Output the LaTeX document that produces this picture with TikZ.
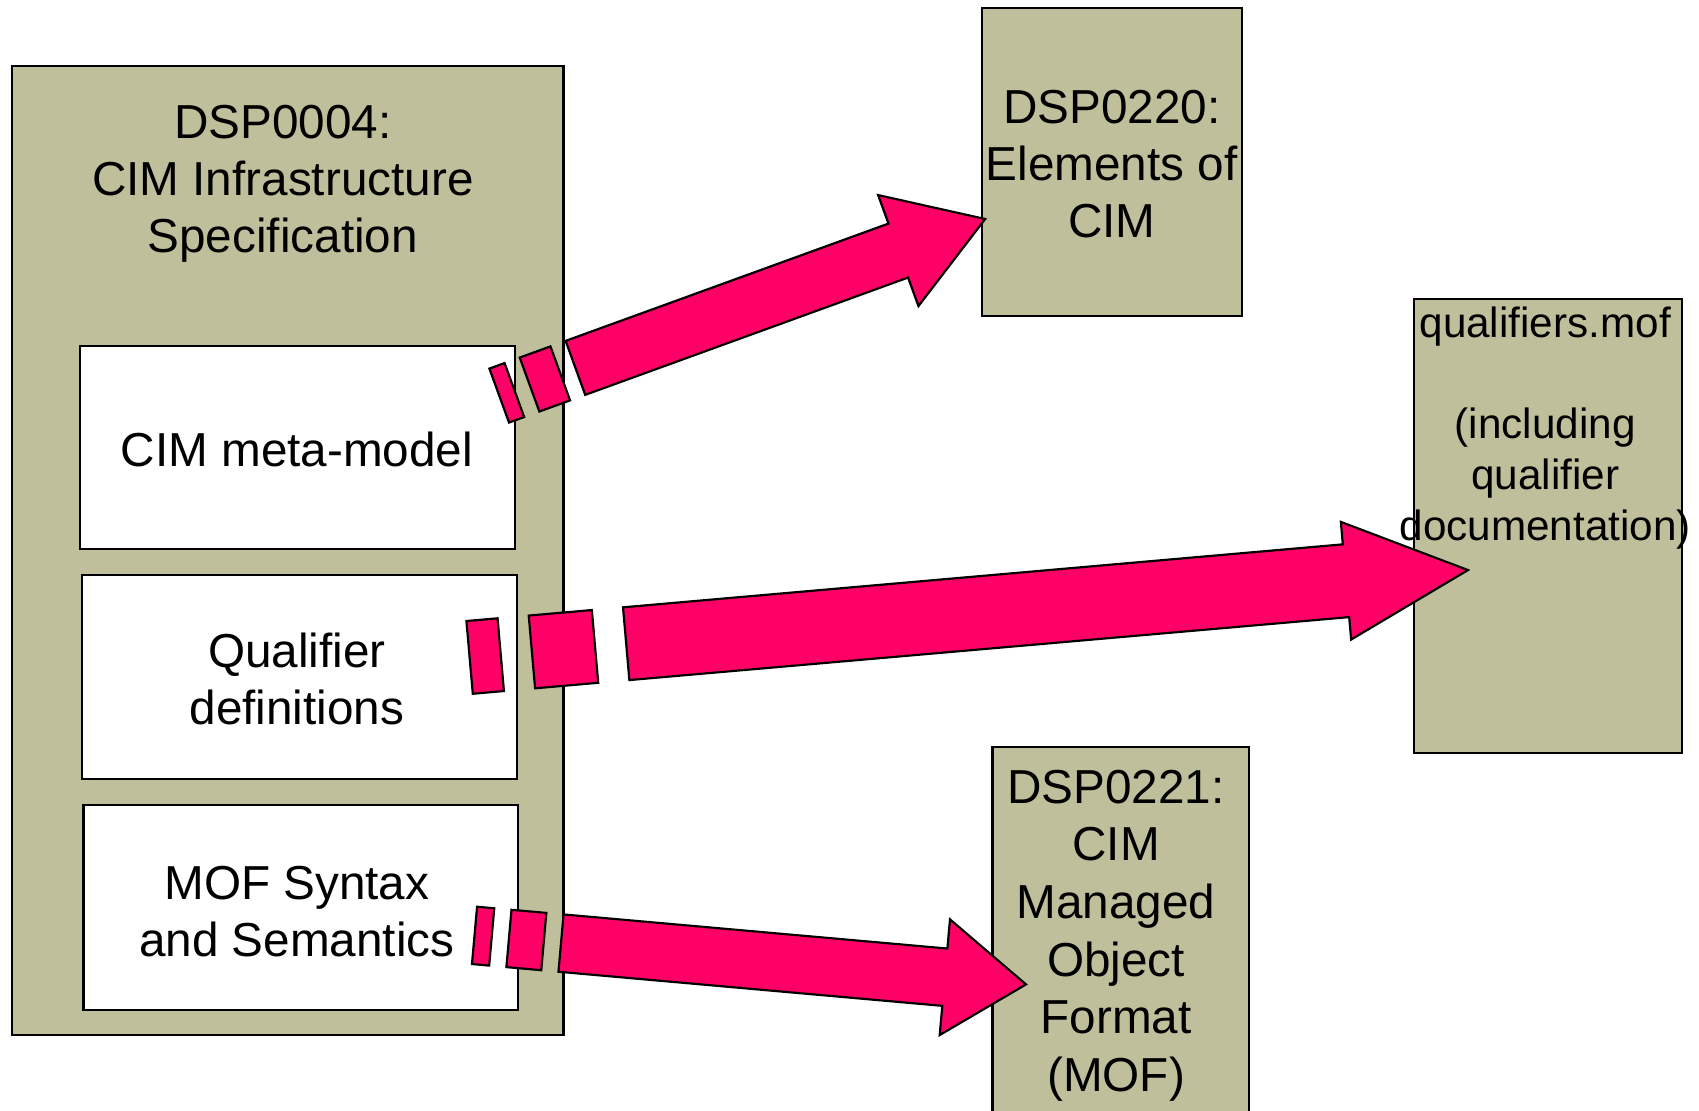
\documentclass[tikz,border=0pt]{standalone}
\usepackage{fontspec}
\setmainfont{Liberation Sans}
\definecolor{boxfill}{RGB}{191,192,155}
\definecolor{arrowpink}{RGB}{255,0,102}
\tikzset{
  box/.style={draw=black, line width=1pt, fill=boxfill, inner sep=0pt, outer sep=0pt, anchor=north west},
  inbox/.style={draw=black, line width=1pt, fill=white, inner sep=0pt, outer sep=0pt, anchor=north west},
  txt/.style={font=\fontsize{22}{26.3}\selectfont, align=center, inner sep=0pt},
  smalltxt/.style={font=\fontsize{19.5}{23.5}\selectfont, align=center, inner sep=0pt},
  arrowpart/.style={draw=black, line width=1pt, fill=arrowpink, line join=miter},
}
% striped block arrow from tail coordinate #1 to tip coordinate #2
% #3 body width, #4 head width, #5 head length (all in px of the drawing)
\newcommand\stripearrow[5]{%
  \pgfpointdiff{\pgfpointanchor{#1}{center}}{\pgfpointanchor{#2}{center}}%
  \pgfgetlastxy{\ax}{\ay}%
  \pgfmathsetmacro\alen{veclen(\ax,\ay)}%
  \pgfmathsetmacro\aang{atan2(\ay,\ax)}%
  \pgfmathsetmacro\bh{#3*0.25}%
  \pgfmathsetmacro\hh{#4*0.25}%
  \pgfmathsetmacro\hb{\alen-#5*0.5}%
  \pgfmathsetmacro\arA{-0.186*\alen}\pgfmathsetmacro\arB{-0.149*\alen}%
  \pgfmathsetmacro\arC{-0.112*\alen}\pgfmathsetmacro\arD{-0.037*\alen}%
  \begin{scope}[shift={(#1)},rotate=\aang]
    \filldraw[arrowpart] (0pt,-\bh pt) -- (\hb pt,-\bh pt) -- (\hb pt,-\hh pt) -- (\alen pt,0pt)
      -- (\hb pt,\hh pt) -- (\hb pt,\bh pt) -- (0pt,\bh pt) -- cycle;
    \filldraw[arrowpart] (\arC pt,-\bh pt) -- (\arD pt,-\bh pt) -- (\arD pt,\bh pt) -- (\arC pt,\bh pt) -- cycle;
    \filldraw[arrowpart] (\arA pt,-\bh pt) -- (\arB pt,-\bh pt) -- (\arB pt,\bh pt) -- (\arA pt,\bh pt) -- cycle;
  \end{scope}}
\begin{document}
\begin{tikzpicture}[x=0.5pt,y=-0.5pt]
  \useasboundingbox (0,0) rectangle (1568,1025);
  \clip (0,0) rectangle (1568,1025);
  % boxes
  \node[box, minimum width=254.5pt, minimum height=447pt] (spec) at (11,61) {};
  \node[inbox, minimum width=200.5pt, minimum height=94pt] (meta) at (74,319) {};
  \node[inbox, minimum width=200.5pt, minimum height=94pt] (qual) at (76,531) {};
  \node[inbox, minimum width=200.5pt, minimum height=94.5pt] (mof) at (77,743) {};
  \node[box, minimum width=120pt, minimum height=142.5pt] (elem) at (906,7) {};
  \node[box, minimum width=123.5pt, minimum height=209.5pt] (qfile) at (1305,276) {};
  \node[box, minimum width=118.5pt, minimum height=200pt] (format) at (916,689) {};
  % texts
  \node[txt] (specT) at (261,169.5) {DSP0004:\\CIM Infrastructure\\Specification};
  \node[txt] (metaT) at (274,415) {CIM meta-model};
  \node[txt] (qualT) at (274,627) {Qualifier\\definitions};
  \node[txt] (mofT) at (274,841) {MOF Syntax\\and Semantics};
  \node[txt] (elemT) at (1026,151) {DSP0220:\\Elements of\\CIM};
  \node[smalltxt] (qfileT) at (1426,395) {qualifiers.mof\\ \\(including\\qualifier\\documentation)};
  \node[txt, font=\fontsize{22}{26.6}\selectfont] (formatT) at (1030,863.5) {DSP0221:\\CIM\\Managed\\Object\\Format\\(MOF)};
  % arrows
  \coordinate (a1tail) at (531.05,339.5);
  \coordinate (a1tip) at (909.2,202.1);
  \coordinate (a2tail) at (577.9,594.05);
  \coordinate (a2tip) at (1354.8,526.1);
  \coordinate (a3tail) at (517.75,870.35);
  \coordinate (a3tip) at (946.9,908.5);
  \stripearrow{a1tail}{a1tip}{53}{109}{85.3}
  \stripearrow{a2tail}{a2tip}{67.4}{109}{113}
  \stripearrow{a3tail}{a3tip}{53.1}{107.2}{75.2}
\end{tikzpicture}
\end{document}
